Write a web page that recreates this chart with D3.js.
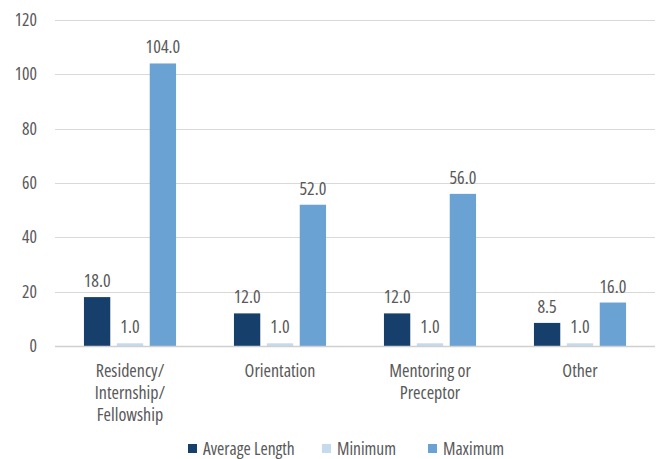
<!doctype html>
<html>
<head>
    <style>
        body { margin: 0; background: #fff; }
        svg text { font-family: "Open Sans", sans-serif; font-stretch: 75%; fill: #595959; }
        .grid line { stroke: #d9d9d9; }
    </style>
    <script src="https://d3js.org/d3.v7.min.js"></script>
</head>
<body>
<svg width="657" height="459" class="svg1"></svg>
<script>
    var categories = [["Residency/", "Internship/", "Fellowship"], ["Orientation"], ["Mentoring or", "Preceptor"], ["Other"]];
    var seriesNames = ["Average Length", "Minimum", "Maximum"];
    var averageLength = [18.0, 12.0, 12.0, 8.5];
    var minimum = [1.0, 1.0, 1.0, 1.0];
    var maximum = [104.0, 52.0, 56.0, 16.0];
    var yTicks = [0, 20, 40, 60, 80, 100, 120];
    var colors = ["#173f6b", "#c6daee", "#6aa3d3"];

    var seriesValues = [averageLength, minimum, maximum];
    var keys = categories.map(function(c) { return c.join(" "); });

    var svg = d3.select(".svg1"),
        plotLeft = 55, plotRight = 655, plotTop = 20, plotBottom = 346;

    var x0 = d3.scaleBand().domain(keys).range([plotLeft, plotRight]);
    var bw = x0.bandwidth();
    var x1 = d3.scaleBand().domain(seriesNames).range([bw * 0.193, bw * 0.807]).paddingInner(0.2);
    var y = d3.scaleLinear().domain([0, 120]).range([plotBottom, plotTop]);

    // gridlines
    svg.append("g").attr("class", "grid")
       .selectAll("line").data(yTicks.slice(1)).enter().append("line")
       .attr("x1", plotLeft).attr("x2", plotRight)
       .attr("y1", function(d) { return Math.round(y(d)) + 0.5; })
       .attr("y2", function(d) { return Math.round(y(d)) + 0.5; });

    // y tick labels
    svg.append("g").selectAll("text").data(yTicks).enter().append("text")
       .attr("x", 37).attr("y", function(d) { return y(d) + 6; })
       .attr("text-anchor", "end").attr("font-size", "17.5px")
       .text(function(d) { return d; });

    var groups = svg.append("g").selectAll("g").data(keys).enter().append("g")
       .attr("transform", function(d) { return "translate(" + x0(d) + ",0)"; });

    groups.selectAll("rect")
       .data(function(d, i) { return seriesNames.map(function(s, j) { return {s: s, v: seriesValues[j][i], c: colors[j]}; }); })
       .enter().append("rect")
       .attr("x", function(d) { return x1(d.s); })
       .attr("width", x1.bandwidth())
       .attr("y", function(d) { return y(d.v); })
       .attr("height", function(d) { return y(0) - y(d.v); })
       .attr("fill", function(d) { return d.c; });

    groups.selectAll("text.val")
       .data(function(d, i) { return seriesNames.map(function(s, j) { return {s: s, v: seriesValues[j][i]}; }); })
       .enter().append("text").attr("class", "val")
       .attr("x", function(d) { return x1(d.s) + x1.bandwidth() / 2; })
       .attr("y", function(d) { return y(d.v) - 10; })
       .attr("text-anchor", "middle").attr("font-size", "18px")
       .text(function(d) { return d.v.toFixed(1); });

    // x axis line
    svg.append("line")
       .attr("x1", plotLeft).attr("x2", plotRight)
       .attr("y1", plotBottom + 0.5).attr("y2", plotBottom + 0.5)
       .attr("stroke", "#d0d0d0").attr("stroke-width", 1.5);

    // category labels
    svg.append("g").selectAll("text").data(categories).enter().append("text")
       .attr("text-anchor", "middle").attr("font-size", "18px")
       .attr("transform", function(d, i) { return "translate(" + (x0(keys[i]) + bw / 2) + ",377)"; })
       .selectAll("tspan").data(function(d) { return d; }).enter().append("tspan")
       .attr("x", 0).attr("y", function(d, i) { return i * 22; })
       .text(function(d) { return d; });

    // legend
    var legendX = [188, 322, 428];
    var legend = svg.append("g").selectAll("g").data(seriesNames).enter().append("g")
       .attr("transform", function(d, i) { return "translate(" + legendX[i] + ",444)"; });
    legend.append("rect").attr("width", 9).attr("height", 9)
       .attr("fill", function(d, i) { return colors[i]; });
    legend.append("text").attr("x", 15).attr("y", 11).attr("font-size", "17.5px")
       .text(function(d) { return d; });
</script>
</body>
</html>
